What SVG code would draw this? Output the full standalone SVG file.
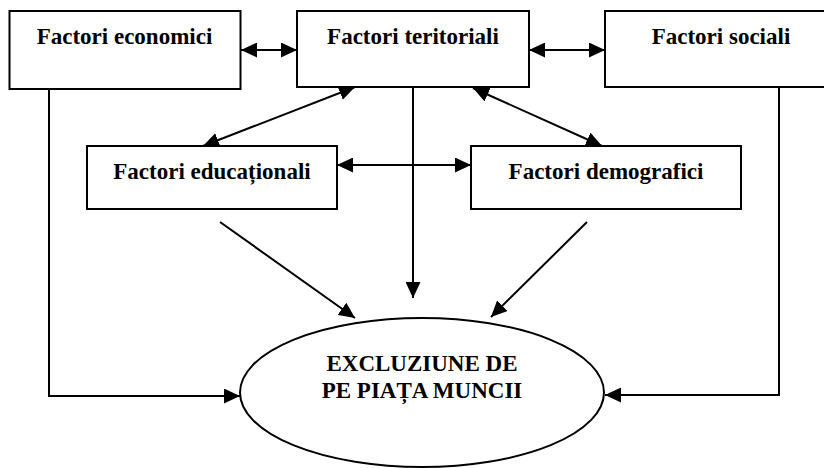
<svg xmlns="http://www.w3.org/2000/svg" width="824" height="468" viewBox="0 0 824 468">
<style>
.box{fill:#fff;stroke:#000;stroke-width:2}
.lbl{font-family:"Liberation Serif","Times New Roman",serif;font-weight:bold;font-size:23px;fill:#000;text-anchor:middle}
.c{fill:none;stroke:#000;stroke-width:2}
.a{marker-end:url(#ah)}
.d{marker-start:url(#ah);marker-end:url(#ah)}
</style>
<defs>
<marker id="ah" markerUnits="userSpaceOnUse" markerWidth="16" markerHeight="15" refX="16" refY="7.5" orient="auto-start-reverse" viewBox="0 0 16 15">
<path d="M0,0 L16,7.5 L0,15 z" fill="#000"/>
</marker>
</defs>
<rect width="824" height="468" fill="#fff"/>
<g id="connectors">
<line class="c d" x1="241" y1="50" x2="297" y2="50"/>
<line class="c d" x1="529" y1="50" x2="605" y2="50"/>
<line class="c d" x1="337" y1="165" x2="471" y2="165"/>
<line class="c d" x1="203" y1="146" x2="355" y2="87"/>
<line class="c d" x1="473" y1="88" x2="602" y2="146"/>
<line class="c a" x1="413" y1="87" x2="413" y2="298"/>
<polyline class="c a" points="49,89 49,396 240,396"/>
<polyline class="c a" points="779,87 779,395 605,395"/>
<line class="c a" x1="220" y1="222" x2="355" y2="318"/>
<line class="c a" x1="587" y1="222" x2="491" y2="317"/>
</g>
<g id="economici">
<rect class="box" x="9.5" y="11" width="231" height="78"/>
<text class="lbl" x="124.5" y="44">Factori economici</text>
</g>
<g id="teritoriali">
<rect class="box" x="297" y="11" width="232" height="76"/>
<text class="lbl" x="413" y="44">Factori teritoriali</text>
</g>
<g id="sociali">
<rect class="box" x="605" y="11" width="232" height="76"/>
<text class="lbl" x="721" y="44">Factori sociali</text>
</g>
<g id="educationali">
<rect class="box" x="87" y="146" width="250" height="63"/>
<text class="lbl" x="212" y="179">Factori educaționali</text>
</g>
<g id="demografici">
<rect class="box" x="471" y="146" width="270" height="63"/>
<text class="lbl" x="606" y="179">Factori demografici</text>
</g>
<g id="excluziune">
<ellipse cx="422" cy="392.5" rx="182" ry="74.5" fill="#fff" stroke="#000" stroke-width="2"/>
<text class="lbl" x="422" y="371">EXCLUZIUNE DE</text>
<text class="lbl" x="422" y="398">PE PIAȚA MUNCII</text>
</g>
</svg>
